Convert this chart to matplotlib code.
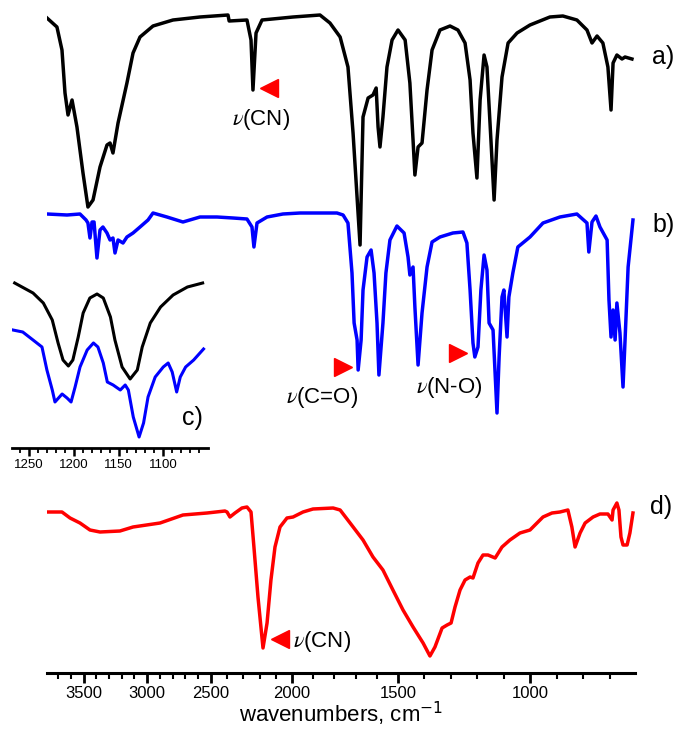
import numpy as np
import matplotlib
matplotlib.use("Agg")
import matplotlib.pyplot as plt
from matplotlib.ticker import FixedLocator

plt.rcParams['font.family'] = ['Liberation Sans', 'DejaVu Sans']
plt.rcParams['mathtext.fontset'] = 'stix'

# spectrum a) (black)
wn_a = [3790, 3711, 3671, 3647, 3623, 3591, 3552, 3504, 3465, 3425, 3370, 3315, 3291, 3268, 3228,
        3158, 3110, 3055, 2953, 2797, 2586, 2395, 2388, 2278, 2253, 2241, 2222, 2185, 1995, 1868,
        1821, 1773, 1736, 1712, 1679, 1665, 1641, 1618, 1603, 1594, 1585, 1571, 1552, 1528, 1500,
        1473, 1455, 1443, 1436, 1424, 1409, 1390, 1371, 1341, 1303, 1273, 1246, 1227, 1216, 1201,
        1189, 1174, 1163, 1148, 1136, 1125, 1106, 1083, 1049, 1000, 925, 876, 823, 785, 766,
        747, 725, 706, 694, 686, 671, 651, 639, 612]
t_a = [98.5, 94, 82.5, 61, 50, 57.5, 44, 21, 4, 7.5, 24, 35, 36, 31, 46,
       66, 81, 89, 94.5, 97.5, 99, 100, 97, 97.5, 87.5, 62.5, 91, 97.5, 99, 100,
       96, 89, 74, 41, -15, 49, 58.5, 60, 63.5, 44, 34, 49, 74, 87.5, 92.5,
       87.5, 66, 37.5, 20, 34, 36, 62.5, 82.5, 92.5, 94.5, 92.5, 86, 67.5, 41, 18.5,
       57.5, 80, 74, 37.5, 7.5, 37.5, 69, 86, 91, 95, 99, 99.5, 97.5, 92.5, 86,
       89.5, 86, 74, 52.5, 76, 80, 78, 79, 78]

# spectrum b) (blue)
wn_b = [3790, 3631, 3528, 3480, 3465, 3449, 3433, 3417, 3394, 3370, 3347, 3315, 3291, 3268, 3252,
        3228, 3189, 3158, 3110, 3055, 2992, 2953, 2844, 2719, 2586, 2463, 2364, 2278, 2247, 2235,
        2216, 2154, 2056, 1962, 1868, 1821, 1788, 1759, 1736, 1717, 1707, 1693, 1688, 1674, 1665,
        1646, 1627, 1613, 1599, 1590, 1571, 1557, 1538, 1505, 1477, 1462, 1455, 1443, 1436, 1424,
        1409, 1390, 1371, 1341, 1292, 1254, 1239, 1227, 1216, 1209, 1197, 1186, 1174, 1163, 1155,
        1140, 1125, 1117, 1106, 1099, 1087, 1080, 1065, 1046, 1000, 951, 887, 823, 785, 778,
        766, 751, 736, 709, 702, 694, 686, 678, 671, 659, 647, 639, 627, 612, 608]
t_b = [100.5, 100, 100.5, 97.5, 96, 88.5, 96.5, 96.5, 78.5, 92.5, 94, 91, 87.5, 88.5, 81,
       87.5, 86, 89, 91, 94, 97.5, 101, 99, 96.5, 99, 99, 98.5, 98, 94, 84,
       96, 99, 100.5, 101, 101, 101, 101, 100, 96, 71, 46, 37.5, 22.5, 37.5, 62.5,
       79, 82.5, 71, 46, 20, 46, 71, 87.5, 94.5, 91, 79, 70, 74, 54, 25,
       51, 74, 86.5, 89, 91, 91.5, 86, 62.5, 36, 29, 34, 62.5, 80, 72.5, 46,
       42.5, 1, 29, 59, 62.5, 39, 59, 71, 84, 89, 96, 99, 100.5, 96, 81.5,
       96.5, 99.5, 94, 87.5, 57.5, 39, 52.5, 37.5, 56, 41, 14, 37.5, 74, 92.5, 97.5]

# spectrum d) (red)
wn_d = [3790, 3671, 3607, 3528, 3449, 3370, 3213, 3110, 2898, 2719, 2531, 2414, 2401, 2383, 2352,
        2309, 2278, 2253, 2235, 2210, 2179, 2154, 2130, 2105, 2074, 2031, 1995, 1948, 1901, 1806,
        1773, 1726, 1665, 1618, 1571, 1524, 1481, 1443, 1405, 1379, 1360, 1333, 1314, 1299, 1284,
        1265, 1246, 1227, 1216, 1197, 1178, 1159, 1132, 1106, 1076, 1038, 1000, 951, 917, 887,
        857, 842, 830, 811, 792, 762, 736, 706, 690, 686, 671, 663, 655, 647, 631,
        620, 608]
t_d = [74, 74, 71, 68.5, 65, 64, 64.5, 66.5, 68.5, 72.5, 73.5, 74.5, 74, 71.5, 73.5,
       76, 76.5, 74, 56.5, 31.5, 6, 18.5, 40, 56.5, 66.5, 71, 71.5, 74, 75.5, 76,
       75, 68.5, 60, 51.5, 45, 35, 25, 16.5, 8.5, 2, 6.5, 16, 17.5, 18.5, 26.5,
       35, 40, 41.5, 41, 48.5, 52.5, 52.5, 51, 56.5, 60, 63.5, 65, 71.5, 73.5, 74,
       75, 66.5, 56.5, 63.5, 68.5, 71.5, 73, 73, 70, 75, 78.5, 75, 61.5, 57.5, 57.5,
       63.5, 73.5]

# inset c), 1270-1050 cm-1
wn_c_a = [1266, 1245.5, 1234, 1224, 1217.5, 1212, 1206, 1201, 1195, 1189.5, 1182, 1174, 1167, 1159,
          1154, 1146, 1137, 1129, 1123.5, 1114.5, 1103, 1089, 1073, 1056]
t_c_a = [83.5, 78.5, 73.5, 65, 53.5, 45, 42, 45, 56.5, 68.5, 76, 78, 76, 66.5,
         55, 41.5, 35.5, 40, 51.5, 63.5, 71.5, 77.5, 81.5, 83.5]
wn_c_b = [1268, 1257, 1245.5, 1235.5, 1230, 1224, 1221, 1213, 1207.5, 1203, 1198.5, 1193, 1185, 1178,
          1173, 1167, 1162.5, 1156, 1148, 1142.5, 1139, 1133.5, 1127, 1122, 1117, 1109, 1100, 1094.5,
          1090, 1085, 1081, 1075, 1066, 1055]
t_c_b = [60, 59, 55, 51.5, 40, 30, 24, 28, 26, 24, 31.5, 41.5, 50, 53.5,
         51.5, 43.5, 34, 32.5, 30, 32.5, 30, 16.5, 6.5, 13.5, 26.5, 36.5, 41.5, 43.5,
         39, 29, 36.5, 41.5, 45, 50.5]

major_ticks = [3500, 3000, 2500, 2000, 1500, 1000]
minor_ticks = list(range(700, 3800, 100))
inset_major = [1250, 1200, 1150, 1100]
inset_minor = list(range(1060, 1270, 10))

# x axis of the original is not linear: map wavenumber to position through tick knots
knot_wn = np.array([600, 700, 1000, 1500, 2000, 2500, 3000, 3500, 3790])
knot_pos = np.array([635, 609.5, 530, 398, 292, 211, 147, 83.5, 47])


def fwd(w):
    return -np.interp(w, knot_wn, knot_pos)


def inv(u):
    return np.interp(-u, knot_pos[::-1], knot_wn[::-1])


W, H = 677, 729
fig = plt.figure(figsize=(W / 100, H / 100), dpi=100)
ax = fig.add_axes([47 / W, (H - 673) / H, 588 / W, 673 / H])
ax.patch.set_alpha(0)
ax.set_xscale('function', functions=(fwd, inv))

scale = 2
ax.plot(wn_b, 258 + scale * np.array(t_b), color='#0000ff', lw=2.5)
ax.plot(wn_a, 458 + scale * np.array(t_a), color='black', lw=2.5)
ax.plot(wn_d, 13 + scale * np.array(t_d), color='#ff0000', lw=2.5)

ax.set_xlim(3790, 600)
ax.set_ylim(0, 673)
ax.xaxis.set_major_locator(FixedLocator(major_ticks))
ax.xaxis.set_minor_locator(FixedLocator(minor_ticks))
ax.tick_params(axis='x', which='major', direction='out', length=7, width=2, labelsize=12, pad=2)
ax.tick_params(axis='x', which='minor', direction='out', length=4, width=1.5)
ax.set_yticks([])
for s in ['left', 'right', 'top']:
    ax.spines[s].set_visible(False)
ax.spines['bottom'].set_linewidth(2.2)

# axis title placed by hand, the reference keeps it very close to the bottom edge
fig.text(0.5 * (47 + 635) / W, 1 / H, 'wavenumbers, cm$^{-1}$', fontsize=16,
         ha='center', va='bottom', math_fontfamily='dejavusans')

# band markers
ax.plot([2142], [585], marker='<', color='#ff0000', ms=13, ls='none')
ax.text(2191, 554, r'$\nu$(CN)', fontsize=16, ha='center', va='center')
ax.plot([1759], [306], marker='>', color='#ff0000', ms=13, ls='none')
ax.text(1858, 276, r'$\nu$(C=O)', fontsize=16, ha='center', va='center')
ax.plot([1273], [320], marker='>', color='#ff0000', ms=13, ls='none')
ax.text(1307, 286, r'$\nu$(N-O)', fontsize=16, ha='center', va='center')
ax.plot([2074], [34], marker='<', color='#ff0000', ms=13, ls='none')
ax.text(1995, 32, r'$\nu$(CN)', fontsize=16, ha='left', va='center')

fig.text(652 / W, 1 - 57 / H, 'a)', fontsize=18, va='center')
fig.text(652 / W, 1 - 225 / H, 'b)', fontsize=18, va='center')
fig.text(650 / W, 1 - 507 / H, 'd)', fontsize=18, va='center')

# inset c)
axc = fig.add_axes([12 / W, (H - 448) / H, 196 / W, 178 / H])
axc.patch.set_alpha(0)
axc.plot(wn_c_a, t_c_a, color='black', lw=2.2)
axc.plot(wn_c_b, t_c_b, color='#0000ff', lw=2.2)
axc.set_xlim(1269, 1050)
axc.set_ylim(1, 90)
axc.xaxis.set_major_locator(FixedLocator(inset_major))
axc.xaxis.set_minor_locator(FixedLocator(inset_minor))
axc.tick_params(axis='x', which='major', direction='out', length=6, width=1.8, labelsize=9.5, pad=2)
axc.tick_params(axis='x', which='minor', direction='out', length=3.5, width=1.3)
axc.set_yticks([])
for s in ['left', 'right', 'top']:
    axc.spines[s].set_visible(False)
axc.spines['bottom'].set_linewidth(2)
fig.text(182 / W, 1 - 418 / H, 'c)', fontsize=18, va='center')

fig.savefig('out.png', dpi=100)
